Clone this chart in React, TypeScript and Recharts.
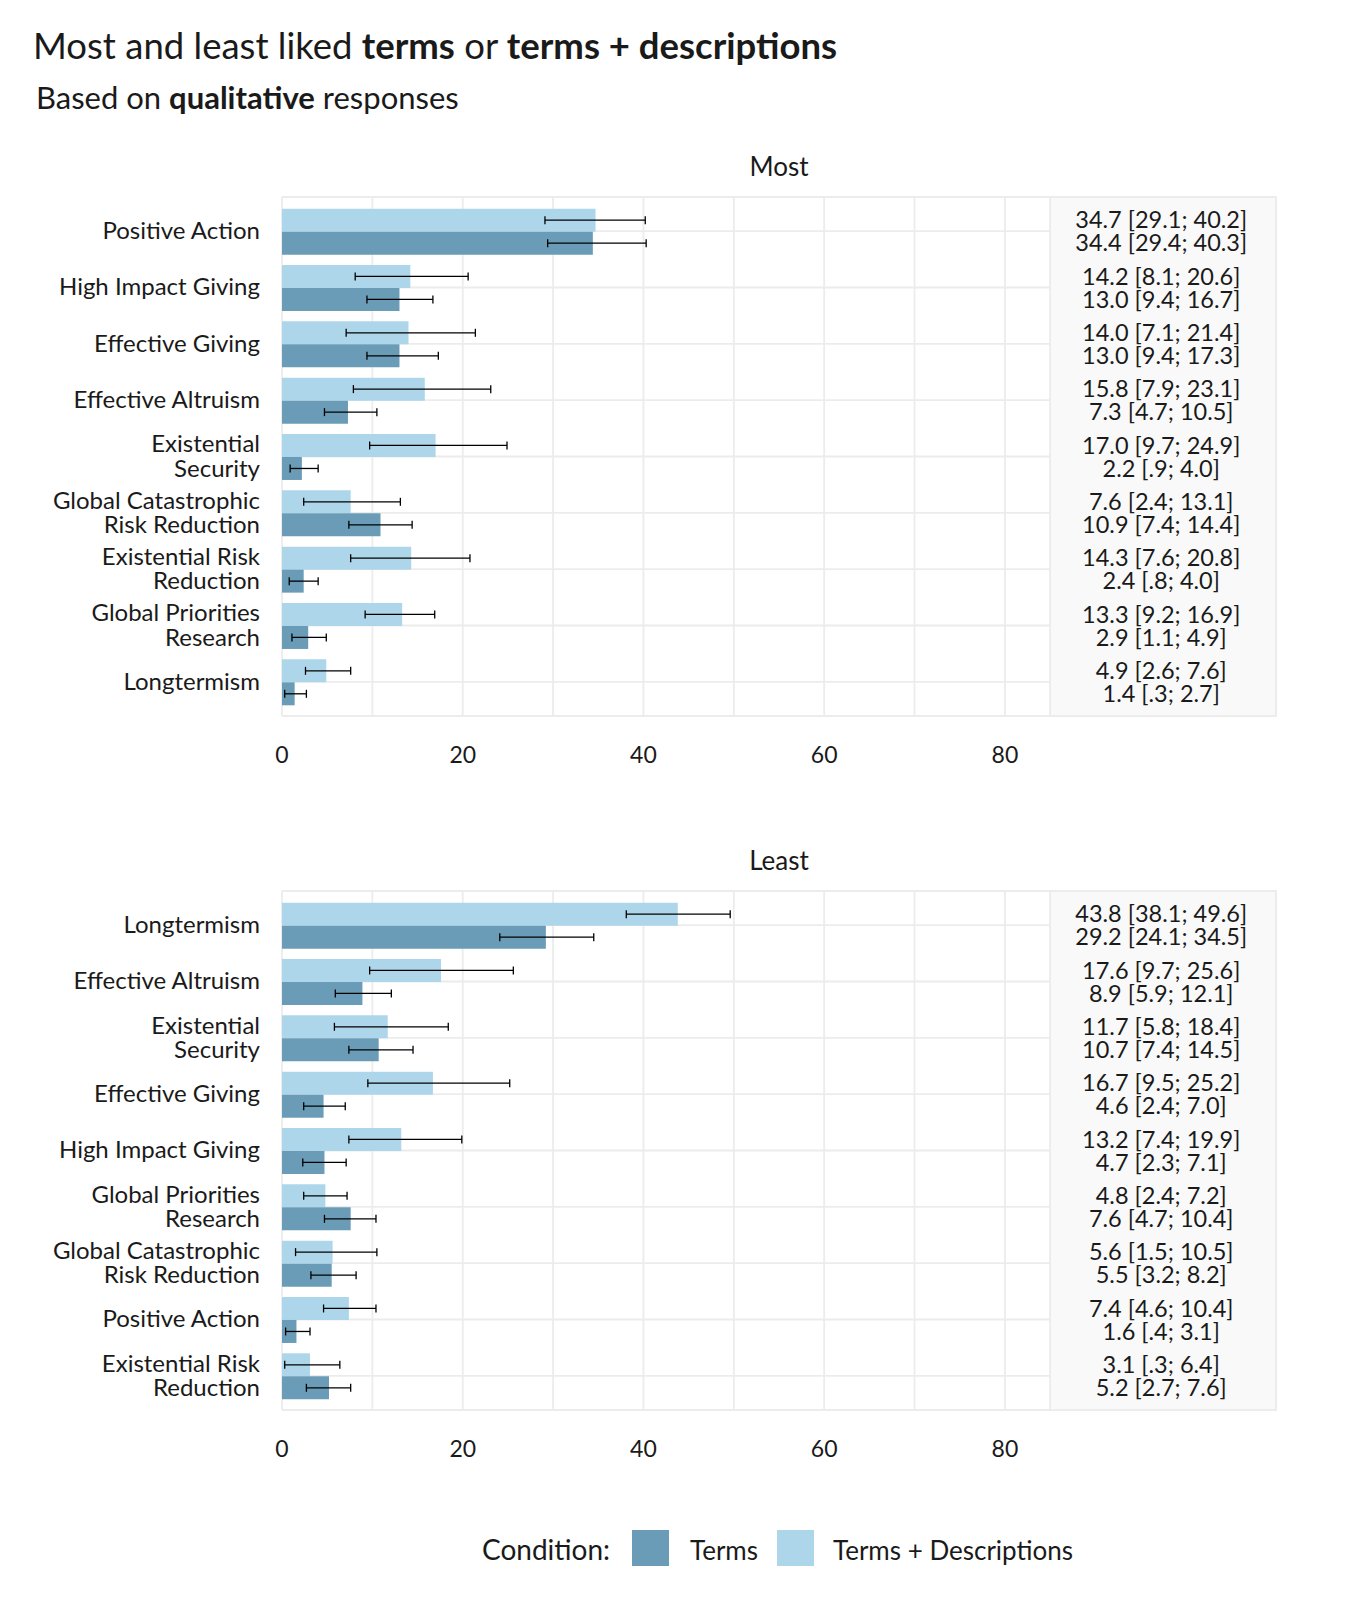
import React from 'react';
import { BarChart, Bar, XAxis, YAxis, CartesianGrid, ErrorBar, ReferenceArea, LabelList } from 'recharts';

const mostCategories = ['Positive Action', 'High Impact Giving', 'Effective Giving', 'Effective Altruism', 'Existential\nSecurity', 'Global Catastrophic\nRisk Reduction', 'Existential Risk\nReduction', 'Global Priorities\nResearch', 'Longtermism'];
const mostDesc = [34.7, 14.2, 14.0, 15.8, 17.0, 7.6, 14.3, 13.3, 4.9];
const mostDescLo = [29.1, 8.1, 7.1, 7.9, 9.7, 2.4, 7.6, 9.2, 2.6];
const mostDescHi = [40.2, 20.6, 21.4, 23.1, 24.9, 13.1, 20.8, 16.9, 7.6];
const mostTerms = [34.4, 13.0, 13.0, 7.3, 2.2, 10.9, 2.4, 2.9, 1.4];
const mostTermsLo = [29.4, 9.4, 9.4, 4.7, 0.9, 7.4, 0.8, 1.1, 0.3];
const mostTermsHi = [40.3, 16.7, 17.3, 10.5, 4.0, 14.4, 4.0, 4.9, 2.7];

const leastCategories = ['Longtermism', 'Effective Altruism', 'Existential\nSecurity', 'Effective Giving', 'High Impact Giving', 'Global Priorities\nResearch', 'Global Catastrophic\nRisk Reduction', 'Positive Action', 'Existential Risk\nReduction'];
const leastDesc = [43.8, 17.6, 11.7, 16.7, 13.2, 4.8, 5.6, 7.4, 3.1];
const leastDescLo = [38.1, 9.7, 5.8, 9.5, 7.4, 2.4, 1.5, 4.6, 0.3];
const leastDescHi = [49.6, 25.6, 18.4, 25.2, 19.9, 7.2, 10.5, 10.4, 6.4];
const leastTerms = [29.2, 8.9, 10.7, 4.6, 4.7, 7.6, 5.5, 1.6, 5.2];
const leastTermsLo = [24.1, 5.9, 7.4, 2.4, 2.3, 4.7, 3.2, 0.4, 2.7];
const leastTermsHi = [34.5, 12.1, 14.5, 7.0, 7.1, 10.4, 8.2, 3.1, 7.6];

const gridTicks = [0, 10, 20, 30, 40, 50, 60, 70, 80];
const labelledTicks = [0, 20, 40, 60, 80];
const xDomain = [0, 110];
const labelBandStart = 85;
const labelCenter = 97.3;

const seriesNames = ['Terms', 'Terms + Descriptions'];
const TERMS_COLOR = '#6a9cb7';
const DESC_COLOR = '#aed6ea';
const GRID = '#ececec';
const FONT = 'Lato, "Noto Sans", sans-serif';
const TEXT = '#1a1a1a';
const Y_PAD = 6;

const fmt = (v: number) => {
  const s = v.toFixed(1);
  return s.startsWith('0.') ? s.slice(1) : s;
};

function buildRows(cats: string[], d: number[], dLo: number[], dHi: number[], t: number[], tLo: number[], tHi: number[]) {
  return cats.map((cat, i) => ({
    cat,
    desc: d[i],
    descErr: [d[i] - dLo[i], dHi[i] - d[i]],
    descLabel: `${fmt(d[i])} [${fmt(dLo[i])}; ${fmt(dHi[i])}]`,
    terms: t[i],
    termsErr: [t[i] - tLo[i], tHi[i] - t[i]],
    termsLabel: `${fmt(t[i])} [${fmt(tLo[i])}; ${fmt(tHi[i])}]`,
  }));
}

const mostRows = buildRows(mostCategories, mostDesc, mostDescLo, mostDescHi, mostTerms, mostTermsLo, mostTermsHi);
const leastRows = buildRows(leastCategories, leastDesc, leastDescLo, leastDescHi, leastTerms, leastTermsLo, leastTermsHi);

const CatTick = (props: any) => {
  const { x, y, payload } = props;
  const lines = String(payload.value).split('\n');
  const lh = 24.5;
  const fs = 24;
  const y0 = y - ((lines.length - 1) * lh) / 2 + fs * 0.33;
  return (
    <text x={x} y={y0} textAnchor="end" fill={TEXT} fontFamily={FONT} fontSize={fs}>
      {lines.map((l, i) => (
        <tspan key={i} x={x} y={y0 + i * lh}>{l}</tspan>
      ))}
    </text>
  );
};

const makeLabel = (rows: any[], key: string) => (props: any) => {
  const vb = props.viewBox || props;
  const { x, y, width, height } = vb;
  const idx = props.index;
  const v = Number(props.value);
  if (!rows[idx] || !v) return null;
  const cx = x + (labelCenter * width) / v;
  const fs = 23.5;
  return (
    <text x={cx} y={y + height / 2 + fs * 0.35} textAnchor="middle" fill={TEXT} fontFamily={FONT} fontSize={fs}>
      {rows[idx][key]}
    </text>
  );
};

const LabelBand = (props: any) => {
  const { x, y, width, height } = props;
  if ([x, y, width, height].some((n) => typeof n !== 'number' || isNaN(n))) return null;
  return (
    <rect x={x} y={y - Y_PAD} width={width} height={height + 2 * Y_PAD} fill="#f9f9f9" stroke={GRID} strokeWidth={1.8} />
  );
};

function Panel({ rows, top }: { rows: any[]; top: number }) {
  return (
    <div style={{ position: 'absolute', left: 0, top }}>
      <BarChart
        width={1371}
        height={626}
        data={rows}
        layout="vertical"
        margin={{ top: 47, right: 95, bottom: 0, left: 0 }}
        barCategoryGap="10%"
        barGap={0}
      >
        <CartesianGrid stroke={GRID} strokeWidth={1.8} />
        <ReferenceArea x1={labelBandStart} x2={xDomain[1]} shape={LabelBand} />
        <XAxis
          type="number"
          domain={xDomain}
          ticks={gridTicks}
          tickFormatter={(v: number) => (labelledTicks.includes(v) ? String(v) : '')}
          axisLine={false}
          tickLine={false}
          tickSize={0}
          tickMargin={31}
          height={60}
          allowDataOverflow
          tick={{ fill: TEXT, fontFamily: FONT, fontSize: 23 }}
        />
        <YAxis
          type="category"
          dataKey="cat"
          width={282}
          axisLine={false}
          tickLine={false}
          tickSize={0}
          tickMargin={22}
          padding={{ top: Y_PAD, bottom: Y_PAD }}
          interval={0}
          tick={<CatTick />}
        />
        <Bar dataKey="desc" fill={DESC_COLOR} isAnimationActive={false}>
          <ErrorBar dataKey="descErr" direction="x" width={4} stroke="#000" strokeWidth={1.3} />
          <LabelList dataKey="desc" content={makeLabel(rows, 'descLabel')} />
        </Bar>
        <Bar dataKey="terms" fill={TERMS_COLOR} isAnimationActive={false}>
          <ErrorBar dataKey="termsErr" direction="x" width={4} stroke="#000" strokeWidth={1.3} />
          <LabelList dataKey="terms" content={makeLabel(rows, 'termsLabel')} />
        </Bar>
      </BarChart>
    </div>
  );
}

export default function App() {
  return (
    <div style={{ position: 'absolute', left: 0, top: 0, width: 1371, height: 1600, background: '#fff', fontFamily: FONT }}>
      <Panel rows={mostRows} top={150} />
      <Panel rows={leastRows} top={844} />
      <svg width={1371} height={1600} style={{ position: 'absolute', left: 0, top: 0, pointerEvents: 'none' }}>
        <text x={33} y={59} fontFamily={FONT} fontSize={36.5} fill={TEXT}>
          Most and least liked <tspan fontWeight={700}>terms</tspan> or <tspan fontWeight={700}>terms + descriptions</tspan>
        </text>
        <text x={36} y={109} fontFamily={FONT} fontSize={31} fill={TEXT}>
          Based on <tspan fontWeight={700}>qualitative</tspan> responses
        </text>
        <text x={779} y={176} textAnchor="middle" fontFamily={FONT} fontSize={26} fill={TEXT}>Most</text>
        <text x={779} y={870} textAnchor="middle" fontFamily={FONT} fontSize={26} fill={TEXT}>Least</text>
        <text x={482} y={1560} fontFamily={FONT} fontSize={28} fill={TEXT}>Condition:</text>
        <rect x={632} y={1530} width={37} height={36} fill={TERMS_COLOR} />
        <text x={690} y={1560} fontFamily={FONT} fontSize={26} fill={TEXT}>{seriesNames[0]}</text>
        <rect x={777} y={1530} width={37} height={36} fill={DESC_COLOR} />
        <text x={833} y={1560} fontFamily={FONT} fontSize={26} fill={TEXT}>{seriesNames[1]}</text>
      </svg>
    </div>
  );
}
